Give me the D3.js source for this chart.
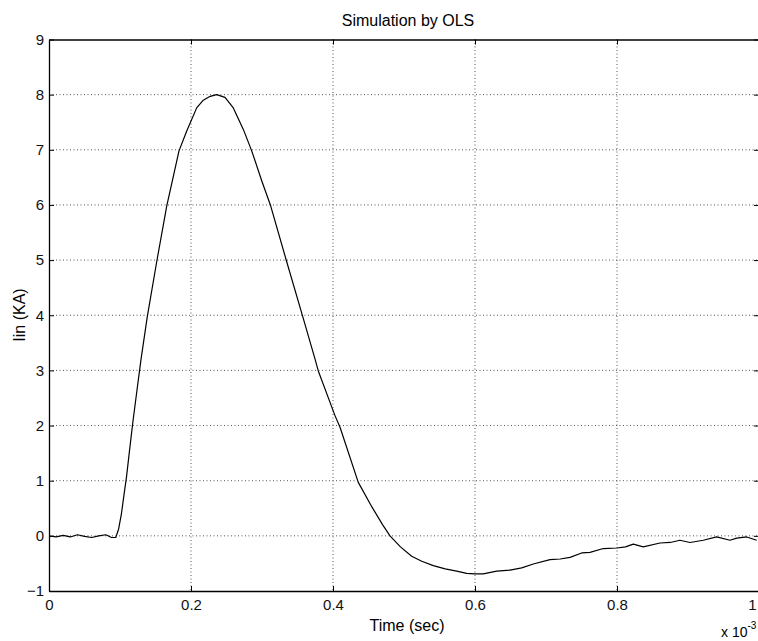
<!DOCTYPE html>
<html>
<head>
<meta charset="utf-8">
<script src="https://cdn.jsdelivr.net/npm/d3@7"></script>
<style>
  body { margin: 0; background: #fff; }
  svg { display: block; font-family: Arial, "Liberation Sans", Helvetica, sans-serif; }
  .axis path { stroke: #000; stroke-width: 1.3; }
  .axis line { stroke: #000; }
  .axis text { font-size: 15px; fill: #111; }
  .grid line { stroke: #555; stroke-dasharray: 1 2.5; stroke-width: 1; }
</style>
</head>
<body>
<svg width="758" height="641"></svg>
<script>
// time in units of 1e-3 s, current in kA
const timeMs = [0, 0.01, 0.02, 0.03, 0.04, 0.05, 0.06, 0.07, 0.08, 0.088, 0.094,
  0.098, 0.102, 0.106, 0.109, 0.113, 0.118, 0.124, 0.1296, 0.1385, 0.1517, 0.1658,
  0.1831, 0.194, 0.208, 0.2173, 0.227, 0.2362, 0.2479, 0.2596, 0.2737, 0.2855,
  0.2996, 0.3123, 0.3348, 0.3573, 0.3746, 0.3793, 0.4028, 0.4099, 0.4356, 0.455,
  0.47, 0.4803, 0.495, 0.5108, 0.525, 0.5413, 0.558, 0.5742, 0.5883, 0.60, 0.6117,
  0.6306, 0.6493, 0.6658, 0.6821, 0.7056, 0.72, 0.7338, 0.7503, 0.762, 0.7807,
  0.80, 0.812, 0.823, 0.837, 0.8606, 0.875, 0.8887, 0.9028, 0.9215, 0.9404,
  0.9592, 0.9686, 0.9827, 0.9968];
const currentKA = [0, -0.02, 0.01, -0.02, 0.02, -0.01, -0.03, 0.0, 0.02, -0.03, -0.03,
  0.12, 0.4, 0.78, 1.05, 1.5, 2.05, 2.65, 3.2, 3.98, 4.97, 5.98,
  6.98, 7.34, 7.76, 7.9, 7.97, 8.0, 7.95, 7.76, 7.37, 6.98,
  6.44, 5.98, 4.97, 3.98, 3.21, 2.99, 2.18, 1.97, 0.97, 0.52,
  0.2, 0.0, -0.2, -0.37, -0.46, -0.54, -0.6, -0.64, -0.68, -0.69, -0.69,
  -0.64, -0.62, -0.58, -0.51, -0.43, -0.42, -0.39, -0.31, -0.3, -0.23,
  -0.22, -0.2, -0.15, -0.2, -0.13, -0.12, -0.08, -0.12, -0.08, -0.02,
  -0.08, -0.04, -0.02, -0.08];

const xTicks = [0, 0.2, 0.4, 0.6, 0.8, 1];
const yTicks = [-1, 0, 1, 2, 3, 4, 5, 6, 7, 8, 9];

const svg = d3.select("svg");
const box = {left: 49, right: 759, top: 39.5, bottom: 591};

const x = d3.scaleLinear().domain([0, 1]).range([box.left, box.right]);
const y = d3.scaleLinear().domain([-1, 9]).range([box.bottom, box.top]);

// dotted grid
const grid = svg.append("g").attr("class", "grid");
grid.selectAll(".gx")
  .data(xTicks.slice(1, -1))
  .join("line")
  .attr("x1", d => x(d)).attr("x2", d => x(d))
  .attr("y1", box.top).attr("y2", box.bottom);
grid.selectAll(".gy")
  .data(yTicks.slice(1, -1))
  .join("line")
  .attr("x1", box.left).attr("x2", box.right)
  .attr("y1", d => y(d)).attr("y2", d => y(d));

// axes with inward ticks (matlab style)
const xAxis = svg.append("g")
  .attr("class", "axis")
  .attr("transform", `translate(0,${box.bottom})`)
  .call(d3.axisBottom(x).tickValues(xTicks).tickFormat(d3.format("")).tickSize(-5).tickPadding(8).tickSizeOuter(0));
// last label sits on the window edge, keep it inside
xAxis.selectAll(".tick text").filter(d => d === 1).attr("text-anchor", "end").attr("dx", -3);

svg.append("g")
  .attr("class", "axis")
  .attr("transform", `translate(0,${box.top})`)
  .call(d3.axisTop(x).tickValues(xTicks).tickFormat("").tickSize(-5).tickSizeOuter(0));

svg.append("g")
  .attr("class", "axis")
  .attr("transform", `translate(${box.left},0)`)
  .call(d3.axisLeft(y).tickValues(yTicks).tickFormat(d3.format("")).tickSize(-5).tickPadding(5).tickSizeOuter(0));

svg.append("g")
  .attr("class", "axis")
  .attr("transform", `translate(${box.right},0)`)
  .call(d3.axisRight(y).tickValues(yTicks).tickFormat("").tickSize(-5).tickSizeOuter(0));

// the curve
const line = d3.line()
  .x((d, i) => x(timeMs[i]))
  .y(d => y(d));

svg.append("path")
  .datum(currentKA)
  .attr("fill", "none")
  .attr("stroke", "#000")
  .attr("stroke-width", 1.2)
  .attr("stroke-linejoin", "round")
  .attr("d", line);

// labels
svg.append("text")
  .attr("x", 408)
  .attr("y", 26)
  .attr("text-anchor", "middle")
  .style("font-size", "16px")
  .text("Simulation by OLS");

svg.append("text")
  .attr("x", 407)
  .attr("y", 631)
  .attr("text-anchor", "middle")
  .style("font-size", "16px")
  .text("Time (sec)");

svg.append("text")
  .attr("transform", "translate(25,315) rotate(-90)")
  .attr("text-anchor", "middle")
  .style("font-size", "16px")
  .text("Iin (KA)");

const expo = svg.append("text")
  .attr("x", 721)
  .attr("y", 637)
  .style("font-size", "14px");
expo.append("tspan").text("x 10");
expo.append("tspan").attr("dy", -8).style("font-size", "10px").text("-3");
</script>
</body>
</html>
